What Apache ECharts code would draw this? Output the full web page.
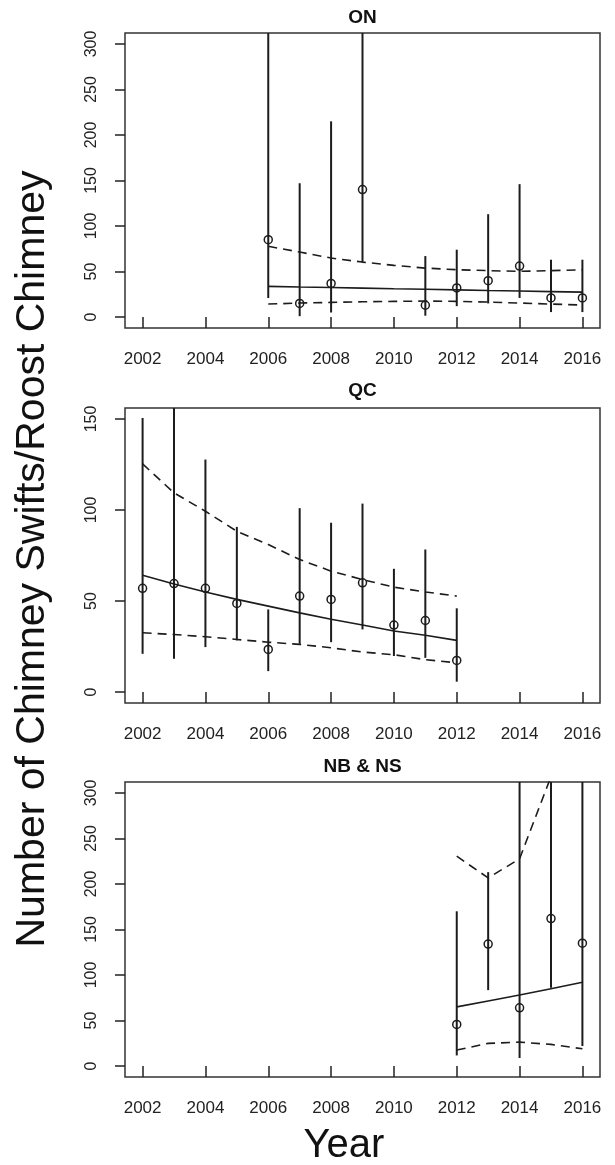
<!DOCTYPE html>
<html>
<head>
<meta charset="utf-8">
<script src="https://cdn.jsdelivr.net/npm/echarts@6/dist/echarts.min.js"></script>
<style>
html,body{margin:0;padding:0;background:#fff;}
#chart{width:615px;height:1165px;}
</style>
</head>
<body>
<div id="chart"></div>
<script>
// ---- tick labels ----
const xTicks = [2002, 2004, 2006, 2008, 2010, 2012, 2014, 2016];
const yTicks300 = [0, 50, 100, 150, 200, 250, 300];
const yTicks150 = [0, 50, 100, 150];
const panelTitles = ['ON', 'QC', 'NB & NS'];

// ---- ON ----
const onYears = [2006, 2007, 2008, 2009, 2011, 2012, 2013, 2014, 2015, 2016];
const onMean  = [85, 15, 37, 140, 13, 32, 40, 56, 21, 21];
const onLow   = [21, 1, 5, 60, 1.5, 12, 15, 21, 5.5, 5.5];
const onHigh  = [420, 147, 215, 360, 67, 74, 113, 146, 63, 63];
const onFitYears = [2006, 2007, 2008, 2009, 2010, 2011, 2012, 2013, 2014, 2015, 2016];
const onFit      = [33.7, 33.0, 32.4, 31.8, 31.1, 30.5, 29.9, 29.2, 28.6, 28.0, 27.4];
const onFitHigh  = [77.7, 71.4, 64.8, 60.4, 56.8, 53.8, 52.0, 51.0, 50.2, 51.0, 52.0];
const onFitLow   = [14.3, 15.4, 16.1, 16.8, 17.2, 17.6, 17.2, 16.5, 15.4, 14.3, 13.2];

// ---- QC ----
const qcYears = [2002, 2003, 2004, 2005, 2006, 2007, 2008, 2009, 2010, 2011, 2012];
const qcMean  = [57, 59.6, 57, 48.7, 23.4, 52.7, 50.9, 60, 36.8, 39.3, 17.4];
const qcLow   = [21, 18.3, 24.7, 28.4, 11.5, 26.5, 27.4, 34.4, 19.8, 18.8, 5.7];
const qcHigh  = [150.5, 190, 127.7, 90.7, 45.4, 101, 93, 103.5, 67.7, 78.3, 46];
const qcFitYears = [2002, 2003, 2004, 2005, 2006, 2007, 2008, 2009, 2010, 2011, 2012];
const qcFit      = [64.2, 59.4, 55.0, 50.9, 47.2, 43.5, 40.0, 36.8, 33.5, 31.2, 28.4];
const qcFitHigh  = [125.3, 109.4, 99.3, 88.3, 81.0, 72.8, 66.4, 61.8, 57.6, 55.0, 52.7];
const qcFitLow   = [32.6, 31.6, 30.4, 28.9, 27.4, 26.2, 24.3, 22.0, 20.5, 17.8, 16.1];

// ---- NB & NS ----
const nbYears = [2012, 2013, 2014, 2015, 2016];
const nbMean  = [45.7, 134, 64, 162, 135];
const nbLow   = [11.7, 83.4, 9, 86, 22];
const nbHigh  = [170, 213, 420, 460, 480];
const nbFitYears = [2012, 2013, 2014, 2015, 2016];
const nbFit      = [65, 71.5, 78, 85, 92];
const nbFitHigh  = [230.5, 206.7, 227.6, 318, 460];
const nbFitLow   = [17.6, 24.9, 26.3, 23.8, 19];

const FONT = '"Liberation Sans", Arial, Helvetica, sans-serif';
const INK = '#1c1c1c';

const panels = [
  {years: onYears, mean: onMean, low: onLow, high: onHigh, fy: onFitYears, fit: onFit, fh: onFitHigh, fl: onFitLow, ymin: -12, ymax: 312, yt: yTicks300, top: 33},
  {years: qcYears, mean: qcMean, low: qcLow, high: qcHigh, fy: qcFitYears, fit: qcFit, fh: qcFitHigh, fl: qcFitLow, ymin: -6, ymax: 156, yt: yTicks150, top: 408},
  {years: nbYears, mean: nbMean, low: nbLow, high: nbHigh, fy: nbFitYears, fit: nbFit, fh: nbFitHigh, fl: nbFitLow, ymin: -12, ymax: 312, yt: yTicks300, top: 782}
];

const grids = [], xAxes = [], yAxes = [], series = [];

function errRender(params, api) {
  const p1 = api.coord([api.value(0), api.value(1)]);
  const p2 = api.coord([api.value(0), api.value(2)]);
  const cs = params.coordSys;
  const top = cs.y, bot = cs.y + cs.height;
  const ya = Math.max(top, Math.min(bot, p1[1]));
  const yb = Math.max(top, Math.min(bot, p2[1]));
  return {
    type: 'line',
    shape: {x1: p1[0], y1: ya, x2: p1[0], y2: yb},
    style: {stroke: INK, lineWidth: 2}
  };
}

panels.forEach((p, i) => {
  grids.push({left: 125, width: 475, top: p.top, height: 295, show: true,
    borderColor: '#333', borderWidth: 1.5, backgroundColor: 'transparent'});
  xAxes.push({
    type: 'value', gridIndex: i, min: 2001.44, max: 2016.56,
    axisLine: {show: false}, splitLine: {show: false},
    axisTick: {show: true, length: 11, customValues: xTicks, lineStyle: {color: '#222', width: 1.5}},
    axisLabel: {customValues: xTicks, margin: 23, fontSize: 17, color: '#222', fontFamily: FONT,
      formatter: v => String(v)}
  });
  yAxes.push({
    type: 'value', gridIndex: i, min: p.ymin, max: p.ymax,
    axisLine: {show: false}, splitLine: {show: false},
    axisTick: {show: true, length: 10, customValues: p.yt, lineStyle: {color: '#222', width: 1.5}},
    axisLabel: {customValues: p.yt, rotate: 90, margin: 25, fontSize: 16, color: '#222', fontFamily: FONT,
      formatter: v => String(v)}
  });
  series.push({
    type: 'custom', xAxisIndex: i, yAxisIndex: i, renderItem: errRender,
    data: p.years.map((y, k) => [y, p.low[k], p.high[k]]),
    encode: {x: 0, y: [1, 2]}, silent: true, z: 2
  });
  series.push({
    type: 'line', xAxisIndex: i, yAxisIndex: i, showSymbol: false, clip: true,
    data: p.fy.map((y, k) => [y, p.fit[k]]),
    lineStyle: {color: INK, width: 1.6}, z: 3
  });
  [p.fh, p.fl].forEach(arr => {
    series.push({
      type: 'line', xAxisIndex: i, yAxisIndex: i, showSymbol: false, clip: true,
      data: p.fy.map((y, k) => [y, arr[k]]),
      lineStyle: {color: INK, width: 1.6, type: [9, 6]}, z: 3
    });
  });
  series.push({
    type: 'scatter', xAxisIndex: i, yAxisIndex: i, symbol: 'circle', symbolSize: 8,
    data: p.years.map((y, k) => [y, p.mean[k]]),
    itemStyle: {color: 'rgba(0,0,0,0)', borderColor: INK, borderWidth: 1.5, opacity: 1}, z: 4
  });
});

const titleY = [18, 391, 767];
const graphics = panelTitles.map((t, i) => ({
  type: 'text', x: 362.5, y: titleY[i],
  style: {text: t, fontSize: 19, fontWeight: 'bold', fontFamily: FONT, fill: '#111',
    textAlign: 'center', textVerticalAlign: 'middle'}
}));
graphics.push({
  type: 'text', x: 33, y: 559, rotation: Math.PI / 2,
  style: {text: 'Number of Chimney Swifts/Roost Chimney', fontSize: 41, fontFamily: FONT, fill: '#111',
    textAlign: 'center', textVerticalAlign: 'middle'}
});
graphics.push({
  type: 'text', x: 344, y: 1146,
  style: {text: 'Year', fontSize: 40, fontFamily: FONT, fill: '#111',
    textAlign: 'center', textVerticalAlign: 'middle'}
});

const chart = echarts.init(document.getElementById('chart'), null, {renderer: 'canvas'});
chart.setOption({
  animation: false,
  backgroundColor: '#fff',
  grid: grids, xAxis: xAxes, yAxis: yAxes, series: series,
  graphic: graphics
});
</script>
</body>
</html>
